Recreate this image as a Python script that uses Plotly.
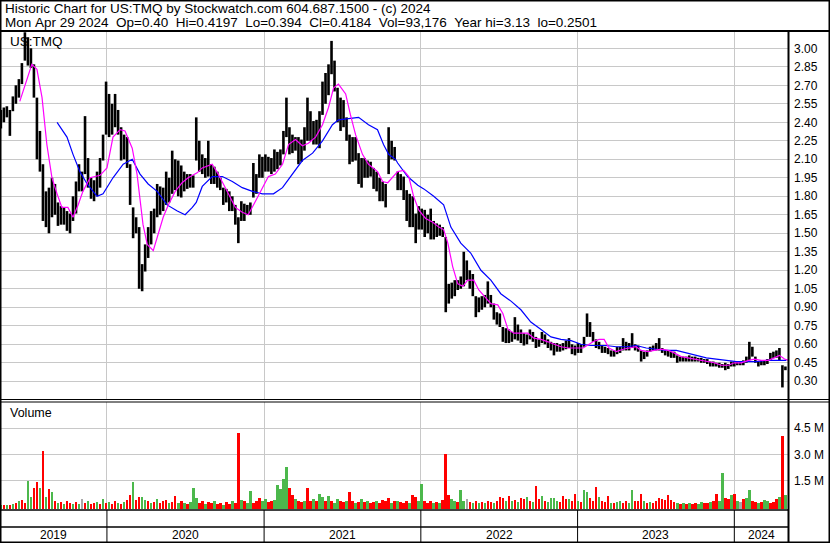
import numpy as np
import pandas as pd
import plotly.graph_objects as go

# ---------------- data ----------------
START = "2019-04-29"          # first weekly bar (Mondays, weekly sampling)
X_START = "2019-04-27"
X_END = "2024-05-05"

highs = [
    2.50, 2.52, 2.53, 2.50, 2.61, 2.70, 2.75, 2.88, 3.13, 3.09,
    3.00, 2.87, 2.60, 2.33, 2.06, 1.84, 1.87, 1.95, 1.90, 1.75,
    1.72, 1.71, 1.68, 1.66, 1.80, 1.92, 2.06, 2.00, 2.45, 2.11,
    1.95, 1.93, 2.00, 2.11, 2.30, 2.73, 2.63, 2.55, 2.63, 2.50,
    2.36, 2.30, 2.28, 2.06, 1.71, 1.63, 1.55, 1.25, 1.41, 1.55,
    1.68, 1.70, 1.90, 1.88, 1.87, 2.00, 1.95, 2.17, 2.10, 2.09,
    2.05, 2.00, 1.98, 1.98, 1.97, 2.44, 2.25, 2.14, 2.11, 2.25,
    2.06, 2.04, 2.00, 1.95, 1.87, 1.86, 1.84, 1.80, 1.73, 1.63,
    1.76, 1.74, 1.73, 1.75, 2.07, 1.98, 2.14, 2.12, 2.14, 2.12,
    2.11, 2.18, 2.16, 2.18, 2.33, 2.60, 2.36, 2.30, 2.28, 2.28,
    2.26, 2.36, 2.60, 2.49, 2.41, 2.42, 2.49, 2.73, 2.80, 2.87,
    3.06, 2.90, 2.68, 2.60, 2.58, 2.44, 2.30, 2.28, 2.28, 2.15,
    2.11, 2.11, 2.09, 2.08, 2.03, 2.00, 1.95, 1.92, 1.90, 2.36,
    2.25, 2.20, 2.00, 1.98, 1.96, 1.85, 1.82, 1.80, 1.66, 1.72,
    1.70, 1.69, 1.65, 1.70, 1.60, 1.58, 1.57, 1.55, 1.47, 1.09,
    1.10, 1.12, 1.12, 1.15, 1.35, 1.28, 1.20, 1.17, 0.99, 0.98,
    0.99, 1.00, 1.11, 1.00, 0.93, 0.86, 0.85, 0.74, 0.73, 0.72,
    0.70, 0.82, 0.76, 0.72, 0.69, 0.68, 0.72, 0.70, 0.66, 0.64,
    0.70, 0.68, 0.64, 0.62, 0.61, 0.61, 0.60, 0.61, 0.63, 0.65,
    0.60, 0.59, 0.61, 0.60, 0.66, 0.85, 0.78, 0.70, 0.64, 0.62,
    0.59, 0.58, 0.57, 0.55, 0.55, 0.58, 0.58, 0.65, 0.62, 0.61,
    0.69, 0.60, 0.59, 0.55, 0.54, 0.55, 0.58, 0.59, 0.61, 0.65,
    0.57, 0.55, 0.55, 0.54, 0.54, 0.51, 0.50, 0.50, 0.50, 0.51,
    0.50, 0.50, 0.49, 0.49, 0.48, 0.48, 0.46, 0.46, 0.45, 0.45,
    0.44, 0.45, 0.44, 0.46, 0.46, 0.46, 0.46, 0.47, 0.50, 0.62,
    0.58, 0.50, 0.46, 0.47, 0.47, 0.48, 0.53, 0.54, 0.55, 0.57,
    0.43, 0.42,
]
lows = [
    2.35, 2.40, 2.44, 2.29, 2.49, 2.55, 2.60, 2.71, 2.90, 2.86,
    2.84, 2.60, 2.10, 2.00, 1.60, 1.55, 1.50, 1.63, 1.65, 1.56,
    1.57, 1.57, 1.52, 1.50, 1.60, 1.66, 1.84, 1.84, 1.98, 1.87,
    1.78, 1.76, 1.80, 1.87, 2.09, 2.30, 2.28, 2.30, 2.36, 2.30,
    2.09, 2.10, 2.03, 1.73, 1.46, 1.50, 1.05, 1.03, 1.19, 1.30,
    1.41, 1.50, 1.63, 1.65, 1.68, 1.73, 1.75, 1.82, 1.85, 1.80,
    1.79, 1.84, 1.86, 1.87, 1.87, 2.09, 2.00, 1.98, 1.95, 1.96,
    1.90, 1.90, 1.87, 1.85, 1.73, 1.75, 1.68, 1.68, 1.57, 1.42,
    1.60, 1.60, 1.65, 1.65, 1.79, 1.82, 1.95, 1.95, 2.00, 2.00,
    1.98, 2.00, 2.02, 2.05, 2.14, 2.28, 2.14, 2.15, 2.17, 2.06,
    2.08, 2.17, 2.25, 2.25, 2.22, 2.22, 2.19, 2.46, 2.55, 2.62,
    2.79, 2.65, 2.40, 2.33, 2.36, 2.25, 2.06, 2.08, 2.09, 1.90,
    1.87, 1.95, 1.95, 1.96, 1.86, 1.84, 1.76, 1.76, 1.71, 1.98,
    2.10, 2.09, 1.85, 1.85, 1.77, 1.60, 1.55, 1.55, 1.42, 1.53,
    1.53, 1.47, 1.50, 1.45, 1.45, 1.47, 1.48, 1.47, 0.86, 0.93,
    0.97, 0.99, 1.04, 1.05, 1.07, 1.12, 1.05, 0.99, 0.82, 0.86,
    0.88, 0.90, 0.93, 0.90, 0.80, 0.76, 0.74, 0.62, 0.61, 0.61,
    0.62, 0.64, 0.63, 0.61, 0.59, 0.60, 0.64, 0.62, 0.57, 0.58,
    0.61, 0.60, 0.57, 0.55, 0.51, 0.54, 0.54, 0.55, 0.56, 0.57,
    0.52, 0.51, 0.53, 0.53, 0.58, 0.66, 0.66, 0.62, 0.57, 0.56,
    0.53, 0.53, 0.52, 0.50, 0.50, 0.52, 0.53, 0.55, 0.55, 0.55,
    0.57, 0.55, 0.54, 0.46, 0.48, 0.50, 0.54, 0.55, 0.55, 0.55,
    0.53, 0.51, 0.50, 0.49, 0.49, 0.45, 0.46, 0.46, 0.46, 0.46,
    0.46, 0.46, 0.46, 0.45, 0.45, 0.44, 0.42, 0.42, 0.42, 0.41,
    0.41, 0.39, 0.40, 0.42, 0.42, 0.43, 0.43, 0.43, 0.45, 0.47,
    0.50, 0.45, 0.42, 0.43, 0.43, 0.44, 0.47, 0.49, 0.49, 0.47,
    0.25, 0.39,
]

# moving averages: (week offset from START, price)
fast_ma_points = [
    (6.3, 2.57), (10.3, 2.87), (12.0, 2.83), (13.7, 2.60), (15.3, 2.22), (17.0, 1.95),
    (18.7, 1.82), (20.3, 1.71), (22.3, 1.71), (24.0, 1.63), (25.7, 1.73), (27.3, 1.84),
    (29.7, 1.95), (33.0, 1.97), (35.3, 2.03), (37.3, 2.28), (39.7, 2.34), (41.3, 2.33),
    (43.7, 2.19), (45.3, 1.98), (47.3, 1.57), (48.7, 1.41), (50.7, 1.36), (52.3, 1.49),
    (54.0, 1.63), (55.7, 1.73), (58.0, 1.84), (60.3, 1.91), (62.3, 1.95), (65.3, 1.99),
    (67.0, 2.03), (70.3, 2.06), (72.3, 1.98), (75.7, 1.82), (78.0, 1.71), (80.3, 1.67),
    (82.3, 1.65), (84.7, 1.76), (87.0, 1.87), (89.0, 1.96), (91.3, 1.98), (93.7, 2.06),
    (95.7, 2.22), (98.0, 2.26), (100.3, 2.21), (102.3, 2.23), (104.7, 2.28), (107.0, 2.38),
    (109.0, 2.52), (110.7, 2.68), (112.3, 2.71), (114.7, 2.63), (116.3, 2.46), (118.0, 2.30),
    (120.3, 2.14), (122.3, 2.06), (125.3, 2.00), (127.0, 1.92), (128.7, 1.91), (130.3, 1.95),
    (132.0, 2.00), (134.0, 2.01), (135.7, 1.96), (137.3, 1.80), (139.0, 1.69), (141.3, 1.62),
    (143.7, 1.59), (145.7, 1.55), (147.3, 1.53), (148.7, 1.42), (150.3, 1.23), (152.0, 1.09),
    (153.7, 1.07), (155.3, 1.12), (157.3, 1.12), (159.0, 1.04), (160.7, 0.99), (163.0, 0.93),
    (165.3, 0.92), (167.0, 0.85), (168.7, 0.72), (170.7, 0.69), (173.0, 0.69), (175.3, 0.69),
    (177.3, 0.65), (179.7, 0.64), (182.0, 0.62), (184.0, 0.60), (186.3, 0.58), (188.7, 0.57),
    (190.7, 0.57), (193.7, 0.57), (197.0, 0.62), (199.0, 0.64), (200.7, 0.64), (202.3, 0.57),
    (204.7, 0.54), (207.0, 0.56), (209.0, 0.57), (211.3, 0.58), (213.0, 0.55), (215.3, 0.54),
    (217.3, 0.55), (219.7, 0.56), (222.0, 0.55), (224.0, 0.53), (226.3, 0.50), (228.7, 0.49),
    (230.7, 0.48), (233.0, 0.47), (235.3, 0.46), (237.3, 0.45), (239.7, 0.43), (242.0, 0.43),
    (244.0, 0.45), (246.3, 0.45), (248.7, 0.47), (250.7, 0.48), (253.0, 0.47), (255.3, 0.47),
    (257.3, 0.49), (259.0, 0.51), (260.7, 0.48), (262.0, 0.47),
]
slow_ma_points = [
    (18.7, 2.40), (22.0, 2.28), (24.0, 2.14), (26.3, 2.00), (28.7, 1.90), (32.0, 1.80),
    (34.0, 1.82), (37.3, 1.95), (40.7, 2.06), (43.7, 2.10), (46.3, 1.98), (49.0, 1.90),
    (52.0, 1.84), (55.3, 1.73), (58.7, 1.68), (61.3, 1.65), (63.7, 1.71), (65.0, 1.75),
    (67.0, 1.88), (70.3, 1.96), (73.7, 1.96), (77.0, 1.92), (80.3, 1.87), (83.7, 1.84),
    (87.0, 1.82), (90.7, 1.82), (93.7, 1.87), (97.0, 1.98), (100.3, 2.09), (103.7, 2.15),
    (107.0, 2.25), (110.3, 2.38), (112.3, 2.42), (115.7, 2.43), (119.0, 2.44), (122.3, 2.38),
    (125.3, 2.34), (127.3, 2.22), (129.0, 2.14), (131.3, 2.10), (132.0, 2.07), (135.3, 1.96),
    (138.7, 1.89), (140.7, 1.86), (144.0, 1.80), (147.3, 1.73), (149.7, 1.55), (153.0, 1.42),
    (156.3, 1.34), (159.7, 1.20), (163.0, 1.12), (166.3, 1.01), (169.7, 0.95), (173.0, 0.88),
    (176.3, 0.78), (179.7, 0.72), (183.0, 0.66), (186.3, 0.64), (189.7, 0.63), (193.0, 0.60),
    (196.3, 0.59), (201.3, 0.59), (204.7, 0.58), (208.0, 0.58), (211.3, 0.59), (214.7, 0.57),
    (218.0, 0.56), (221.3, 0.55), (224.7, 0.55), (228.0, 0.53), (231.3, 0.51), (234.7, 0.49),
    (238.0, 0.48), (241.3, 0.47), (244.7, 0.46), (248.0, 0.46), (251.3, 0.46), (254.7, 0.47),
    (258.0, 0.47), (261.3, 0.47),
]

# volume in millions, one per weekly slot; colour g=up, r=down, k=unchanged
volume_m = [
    0.08, 0.06, 0.10, 0.07, 0.15, 0.20, 0.30, 0.35, 0.20, 1.46,
    0.56, 1.04, 1.42, 1.04, 3.19, 0.56, 0.98, 0.85, 0.30, 0.20,
    0.25, 0.15, 0.30, 0.20, 0.12, 0.25, 0.15, 0.40, 0.20, 0.30,
    0.15, 0.20, 0.25, 0.15, 0.42, 0.20, 0.25, 0.15, 0.30, 0.20,
    0.15, 0.25, 0.35, 0.65, 1.40, 0.35, 0.56, 0.56, 0.37, 0.30,
    0.20, 0.25, 0.44, 0.20, 0.30, 0.37, 0.20, 0.25, 0.60, 0.20,
    0.30, 0.20, 0.15, 0.25, 1.04, 0.46, 0.20, 0.30, 0.15, 0.25,
    0.20, 0.30, 0.15, 0.20, 0.10, 0.25, 0.15, 0.30, 0.20, 4.23,
    0.37, 0.30, 0.20, 0.90, 0.20, 0.30, 0.46, 0.30, 0.44, 0.25,
    0.30, 0.35, 1.23, 0.98, 1.56, 2.29, 1.04, 0.65, 0.45, 0.30,
    0.25, 0.30, 1.04, 0.30, 0.40, 0.30, 0.69, 0.56, 0.30, 0.60,
    0.30, 0.20, 0.42, 0.30, 0.25, 0.30, 0.83, 0.30, 0.20, 0.25,
    0.40, 0.25, 0.30, 0.20, 0.25, 0.30, 0.20, 0.38, 0.30, 0.46,
    0.20, 0.30, 0.30, 0.25, 0.20, 0.30, 0.20, 0.65, 0.56, 0.30,
    1.29, 0.30, 0.20, 0.30, 0.20, 0.25, 0.20, 0.35, 3.02, 0.65,
    0.42, 0.30, 0.25, 0.94, 0.30, 0.42, 0.25, 0.20, 0.30, 0.20,
    0.25, 0.20, 0.30, 0.25, 0.20, 0.30, 0.54, 0.46, 0.30, 0.60,
    0.30, 0.35, 0.25, 0.50, 0.40, 0.54, 0.30, 0.25, 1.17, 0.40,
    0.60, 0.30, 0.25, 0.48, 0.48, 0.30, 0.25, 0.60, 0.44, 0.44,
    0.30, 0.71, 0.30, 0.25, 0.94, 0.83, 0.50, 0.30, 1.12, 0.54,
    0.30, 0.25, 0.60, 0.20, 0.20, 0.25, 0.30, 0.20, 0.30, 0.20,
    0.94, 0.30, 0.30, 0.71, 0.30, 0.20, 0.25, 0.20, 0.30, 0.48,
    0.40, 0.38, 0.65, 0.38, 0.25, 0.20, 0.15, 0.20, 0.15, 0.20,
    0.15, 0.20, 0.15, 0.25, 0.20, 0.20, 0.25, 0.30, 0.71, 0.30,
    1.94, 0.48, 0.42, 0.67, 0.71, 0.30, 0.25, 0.42, 0.50, 0.94,
    0.30, 0.25, 0.20, 0.25, 0.37, 0.30, 0.20, 0.25, 0.42, 0.54,
    4.06, 0.65,
]
volume_colors = "".join([
    "grgrgrgrrg", "grrgrgrgrg", "rgrrgrgkrg", "rrgrgrgrrg", "rgrrgrrggr",
    "grgrrrgrrg", "rgrgggrrgr", "rgrrgrrgrr", "grggrrrggr", "rgggggrrgr",
    "rgrrgrggrg", "rggrrgrrgr", "grgrrgrrrr", "grgrrrgrrg", "grrrgrgrrr",
    "ggrggkrgrg", "rgrrgrrrgr", "grgrrgrgrr", "grggggrrrg", "rrgrggrrrg",
    "rrrgrggrrg", "grrrgrgrrr", "rrrrrgrgrg", "rrggrrgrrg", "grrgrgkrgg",
    "rrgrggrrrg", "rg",
])

price_ticks = [0.30, 0.45, 0.60, 0.75, 0.90, 1.05, 1.20, 1.35, 1.50, 1.65,
               1.80, 1.95, 2.10, 2.25, 2.40, 2.55, 2.70, 2.85, 3.00]
volume_ticks = [1.5, 3.0, 4.5]
volume_tick_text = ["1.5 M", "3.0 M", "4.5 M"]
years = [2019, 2020, 2021, 2022, 2023, 2024]

header_1 = "Historic Chart for US:TMQ by Stockwatch.com 604.687.1500 - (c) 2024"
header_2_fields = ["Mon Apr 29 2024", "Op=0.40", "Hi=0.4197", "Lo=0.394", "Cl=0.4184",
                   "Vol=93,176", "Year hi=3.13", "lo=0.2501"]

assert len(highs) == len(lows) == len(volume_m) == len(volume_colors)

# ---------------- geometry ----------------
W, H = 830, 543
FONT = "Liberation Sans, Arial, sans-serif"
GRID = "#c8c8c8"
PRICE_RANGE = [0.1563, 3.1403]
VOL_FLOOR = -0.156
VOL_RANGE = [VOL_FLOOR, 6.017]
NB = "\u00a0"


def px(x):
    return x / W


def py(y):
    return 1 - y / H


start = pd.Timestamp(START)
dates = [start + pd.Timedelta(days=7 * i) for i in range(len(highs))]
date_str = [d.strftime("%Y-%m-%d") for d in dates]

bar_x, bar_y = [], []
for d, h, l in zip(date_str, highs, lows):
    bar_x += [d, d, None]
    bar_y += [l, h, None]


def week_dates(points):
    return [(start + pd.Timedelta(days=7 * w)).strftime("%Y-%m-%d %H:%M") for w, _ in points]


fig = go.Figure()
fig.add_trace(go.Scatter(x=bar_x, y=bar_y, mode="lines", line=dict(color="black", width=2.6),
                         xaxis="x", yaxis="y", hoverinfo="skip"))
fig.add_trace(go.Scatter(x=week_dates(slow_ma_points), y=[v for _, v in slow_ma_points],
                         mode="lines", line=dict(color="#0000ff", width=1.2), xaxis="x", yaxis="y"))
fig.add_trace(go.Scatter(x=week_dates(fast_ma_points), y=[v for _, v in fast_ma_points],
                         mode="lines", line=dict(color="#ff00ff", width=1.2), xaxis="x", yaxis="y"))

cmap = {"g": "#4cb84c", "r": "#ff0000", "k": "#a8a8a8"}
fig.add_trace(go.Bar(x=date_str, y=[v - VOL_FLOOR for v in volume_m], base=VOL_FLOOR,
                     marker=dict(color=[cmap[c] for c in volume_colors], line=dict(width=0)),
                     width=6 * 86400000, xaxis="x2", yaxis="y2", hoverinfo="skip"))

year_starts = [f"{y}-01-01" for y in years[1:]]
xdom = [0, px(788)]
common_x = dict(type="date", range=[X_START, X_END], domain=xdom, tickvals=year_starts,
                showgrid=True, gridcolor=GRID, gridwidth=1, showticklabels=False, ticks="",
                zeroline=False, showline=False, fixedrange=True)

fig.update_layout(
    width=W, height=H, margin=dict(l=0, r=0, t=0, b=0, pad=0),
    paper_bgcolor="white", plot_bgcolor="white", showlegend=False, bargap=0,
    xaxis=dict(anchor="y", **common_x),
    xaxis2=dict(anchor="y2", matches="x", **common_x),
    yaxis=dict(domain=[py(399), py(31)], range=PRICE_RANGE, side="right", anchor="x",
               tickvals=price_ticks, ticktext=[f"{v:.2f}" for v in price_ticks],
               showgrid=True, gridcolor=GRID, zeroline=False, showline=False, ticks="",
               tickfont=dict(family=FONT, size=12, color="black"), ticklabelstandoff=5),
    yaxis2=dict(domain=[py(509), py(402)], range=VOL_RANGE, side="right", anchor="x2",
                tickvals=volume_ticks, ticktext=volume_tick_text,
                showgrid=True, gridcolor=GRID, zeroline=False, showline=False, ticks="",
                tickfont=dict(family=FONT, size=12, color="black"), ticklabelstandoff=5),
)

# annotations: header, panel labels, year labels
header_2 = (NB * 2).join(f.replace(" ", NB) for f in header_2_fields)
ann = []
ann.append(dict(text=header_1, x=px(3), y=py(8.5), xref="paper", yref="paper",
                xanchor="left", yanchor="middle", showarrow=False,
                font=dict(family=FONT, size=13.5, color="black")))
ann.append(dict(text=header_2, x=px(3), y=py(22.5), xref="paper", yref="paper",
                xanchor="left", yanchor="middle", showarrow=False,
                font=dict(family=FONT, size=13.5, color="black")))
ann.append(dict(text="US:TMQ", x=px(8), y=py(41.5), xref="paper", yref="paper",
                xanchor="left", yanchor="middle", showarrow=False,
                font=dict(family=FONT, size=13.5, color="black")))
ann.append(dict(text="Volume", x=px(8), y=py(413), xref="paper", yref="paper",
                xanchor="left", yanchor="middle", showarrow=False,
                font=dict(family=FONT, size=12.5, color="black")))

edges = [pd.Timestamp(X_START)] + [pd.Timestamp(s) for s in year_starts] + [pd.Timestamp(X_END)]
for i, yr in enumerate(years):
    mid = edges[i] + (edges[i + 1] - edges[i]) / 2
    ann.append(dict(text=str(yr), x=mid.strftime("%Y-%m-%d %H:%M"), y=py(535), xref="x", yref="paper",
                    xanchor="center", yanchor="middle", showarrow=False,
                    font=dict(family=FONT, size=12, color="black")))
fig.update_layout(annotations=ann)

# frame lines
shapes = []


def hline(y, x0, x1, w=1.0):
    shapes.append(dict(type="line", xref="paper", yref="paper", x0=px(x0), x1=px(x1),
                       y0=py(y), y1=py(y), line=dict(color="black", width=w)))


def vline(x, y0, y1, w=1.0):
    shapes.append(dict(type="line", xref="paper", yref="paper", x0=px(x), x1=px(x),
                       y0=py(y0), y1=py(y1), line=dict(color="black", width=w)))


shapes.append(dict(type="rect", xref="paper", yref="paper", x0=px(0.75), x1=px(829.25),
                   y0=py(0.75), y1=py(542.25), line=dict(color="black", width=1.5)))
hline(31, 0, 830, 2)
vline(788.5, 31, 543, 2)
hline(399.5, 0, 830, 1)
hline(402, 0, 830, 1)
hline(510, 0, 788, 1.5)
hline(527, 0, 788, 1.5)
for s in year_starts:
    shapes.append(dict(type="line", xref="x", yref="paper", x0=s, x1=s,
                       y0=py(510), y1=py(543), line=dict(color="black", width=1)))
fig.update_layout(shapes=shapes)

fig.write_html("out.html", config={"displayModeBar": False, "staticPlot": True},
               post_script="document.body.style.margin='0px';document.body.style.overflow='hidden';")
